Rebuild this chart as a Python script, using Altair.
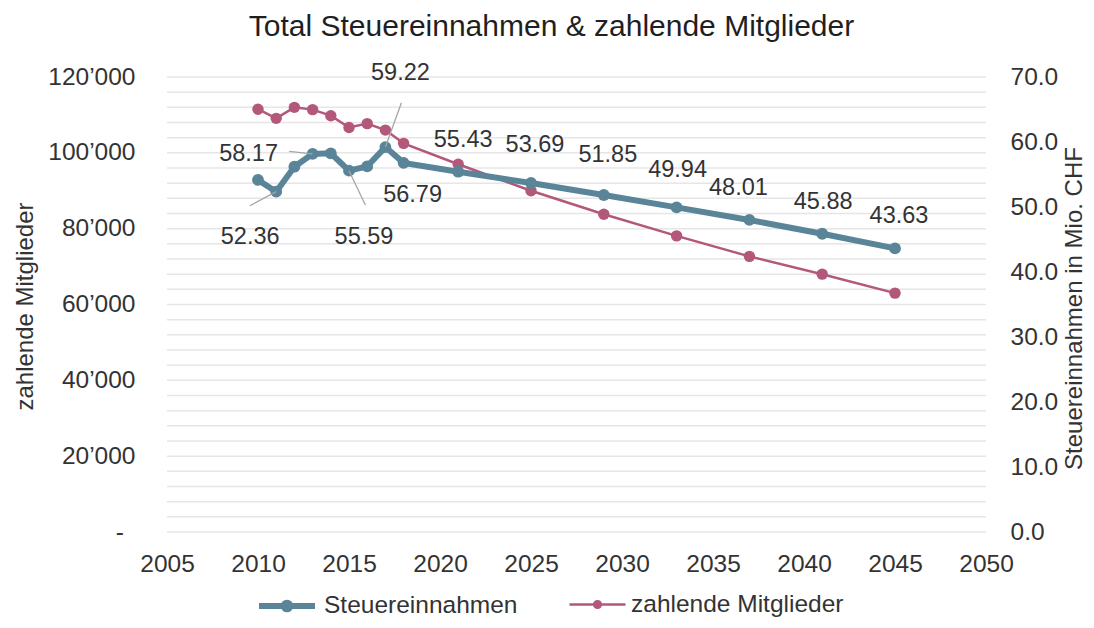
import altair as alt
import pandas as pd

# ---------------- data ----------------
years = [2010, 2011, 2012, 2013, 2014, 2015, 2016, 2017, 2018,
         2021, 2025, 2029, 2033, 2037, 2041, 2045]
steuer = [54.17, 52.36, 56.20, 58.17, 58.25, 55.59, 56.25, 59.22, 56.79,
          55.43, 53.69, 51.85, 49.94, 48.01, 45.88, 43.63]
mitglieder = [111500, 109100, 112000, 111400, 109800, 106700, 107700, 106000, 102500,
              97000, 90000, 83800, 78100, 72700, 68000, 63000]

series_names = ["Steuereinnahmen", "zahlende Mitglieder"]

label_years = [2011, 2013, 2015, 2017, 2018, 2021, 2025, 2029, 2033, 2037, 2041, 2045]

leader_years = [2011, 2013, 2015, 2017]
leader_end_year = [2009.55, 2011.71, 2015.9, 2017.88]
leader_end_val = [50.2, 58.55, 50.3, 66.05]

x_ticks = [2005, 2010, 2015, 2020, 2025, 2030, 2035, 2040, 2045, 2050]
left_ticks = [0, 20000, 40000, 60000, 80000, 100000, 120000]
right_ticks = [0, 10, 20, 30, 40, 50, 60, 70]
grid_values = list(range(0, 120001, 4000))

# ---------------- styles ----------------
FONT = "Liberation Sans"
TXT = "#333333"
BLUE = "#5a8599"
PINK = "#b3587a"
GRID = "#e6e6e6"
W, H = 819, 455

# label offsets (pixels) for each labelled point, in label_years order
label_dx = [-26, -64, 15, 15, 9, 5, 4, 4, 1, -11, 1, 4]
label_dy = [45, 0, 66, -74, 32, -32, -38, -40, -37, -32, -32, -32]

df = pd.DataFrame({"year": years, "steuer": steuer, "mitglieder": mitglieder})
df["s_blue"] = series_names[0]
df["s_pink"] = series_names[1]

df_grid = pd.DataFrame({"g": grid_values})
df_grid["x0"] = x_ticks[0]
df_grid["x1"] = x_ticks[-1]

pt = dict(zip(years, steuer))
df_lead = pd.DataFrame({
    "year": leader_years,
    "val": [pt[y] for y in leader_years],
    "ey": leader_end_year,
    "ev": leader_end_val,
})

xs = alt.Scale(domain=[x_ticks[0], x_ticks[-1]], nice=False, zero=False)
ls = alt.Scale(domain=[0, 120000], nice=False, zero=True)
rs = alt.Scale(domain=[0, 70], nice=False, zero=True)

x_axis = alt.Axis(values=x_ticks, format="d", labelFontSize=24.5, labelFont=FONT,
                  labelColor=TXT, labelPadding=20, ticks=False, domain=False,
                  grid=False, title=None, labelFlush=False, labelOverlap=False)

left_axis = alt.Axis(
    orient="left", values=left_ticks,
    labelExpr="datum.value == 0 ? '-\u00a0\u2009\u200b' : replace(format(datum.value, ','), ',', '\u2019')",
    labelFontSize=24.5, labelFont=FONT, labelColor=TXT, labelPadding=32,
    ticks=False, domain=False, grid=False, labelFlush=False, labelOverlap=False,
    title="zahlende Mitglieder", titleFont=FONT, titleFontSize=24,
    titleFontWeight="normal", titleColor=TXT, titleAngle=270,
    titleX=-142, titleY=229, titleBaseline="middle", titleAlign="center")

right_axis = alt.Axis(
    orient="right", values=right_ticks, format=".1f",
    labelFontSize=24.5, labelFont=FONT, labelColor=TXT, labelPadding=24,
    ticks=False, domain=False, grid=False, labelFlush=False, labelOverlap=False,
    title="Steuereinnahmen in Mio. CHF", titleFont=FONT, titleFontSize=24,
    titleFontWeight="normal", titleColor=TXT, titleAngle=270,
    titleX=88, titleY=231, titleBaseline="middle", titleAlign="center")

SYM = "M-1,0L1,0M-0.12,0A0.12,0.12,0,1,1,0.12,0A0.12,0.12,0,1,1,-0.12,0Z"


def legend(x, color, sw, offset):
    return alt.Legend(orient="none", legendX=x, legendY=498, direction="horizontal",
                      title=None, symbolType=SYM, symbolSize=3136,
                      symbolStrokeWidth=sw, symbolFillColor=color,
                      symbolStrokeColor=color, labelFontSize=24.5, labelFont=FONT,
                      labelColor=TXT, labelOffset=offset, labelLimit=500, padding=0)


# ---------------- pink (left axis) ----------------
grid = alt.Chart(df_grid).mark_rule(color=GRID, strokeWidth=1.5).encode(
    x=alt.X("x0:Q", scale=xs, axis=x_axis), x2="x1:Q",
    y=alt.Y("g:Q", scale=ls, axis=left_axis))

pink_line = alt.Chart(df).mark_line(strokeWidth=2.5).encode(
    x=alt.X("year:Q", scale=xs, axis=x_axis),
    y=alt.Y("mitglieder:Q", scale=ls, axis=left_axis),
    color=alt.Color("s_pink:N", scale=alt.Scale(domain=[series_names[1]], range=[PINK]),
                    legend=legend(401, PINK, 2.5, 4)))

pink_pts = alt.Chart(df).mark_circle(size=130, color=PINK, opacity=1).encode(
    x=alt.X("year:Q", scale=xs, axis=x_axis),
    y=alt.Y("mitglieder:Q", scale=ls, axis=left_axis))

pink_group = alt.layer(grid, pink_line, pink_pts)

# ---------------- blue (right axis) ----------------
blue_line = alt.Chart(df).mark_line(strokeWidth=6).encode(
    x=alt.X("year:Q", scale=xs, axis=x_axis),
    y=alt.Y("steuer:Q", scale=rs, axis=right_axis),
    color=alt.Color("s_blue:N", scale=alt.Scale(domain=[series_names[0]], range=[BLUE]),
                    legend=legend(89, BLUE, 6, 6)))

blue_pts = alt.Chart(df).mark_circle(size=140, color=BLUE, opacity=1).encode(
    x=alt.X("year:Q", scale=xs, axis=x_axis),
    y=alt.Y("steuer:Q", scale=rs, axis=right_axis))

leaders = alt.Chart(df_lead).mark_rule(color="#a6a6a6", strokeWidth=1.3).encode(
    x=alt.X("year:Q", scale=xs, axis=x_axis), x2="ey:Q",
    y=alt.Y("val:Q", scale=rs, axis=right_axis), y2="ev:Q")

labels = []
for i, yr in enumerate(label_years):
    labels.append(
        alt.Chart(df).transform_filter(alt.datum.year == yr)
        .mark_text(dx=label_dx[i], dy=label_dy[i], fontSize=23.5, font=FONT, color=TXT)
        .encode(x=alt.X("year:Q", scale=xs, axis=x_axis),
                y=alt.Y("steuer:Q", scale=rs, axis=right_axis),
                text=alt.Text("steuer:Q", format=".2f")))

blue_group = alt.layer(blue_line, blue_pts, leaders, *labels)

chart = (
    alt.layer(pink_group, blue_group)
    .resolve_scale(y="independent", color="independent")
    .properties(
        width=W, height=H,
        title=alt.TitleParams(text="Total Steuereinnahmen & zahlende Mitglieder",
                              fontSize=30, font=FONT, fontWeight="normal",
                              color="#1f1f1f", anchor="middle", frame="group",
                              dx=-25, offset=19),
        autosize=alt.AutoSizeParams(type="none"),
        padding={"left": 159, "top": 69, "right": 100, "bottom": 88},
        background="white",
    )
    .configure_view(strokeWidth=0)
)

chart.save("out.html", embed_options={"renderer": "svg", "actions": False})
